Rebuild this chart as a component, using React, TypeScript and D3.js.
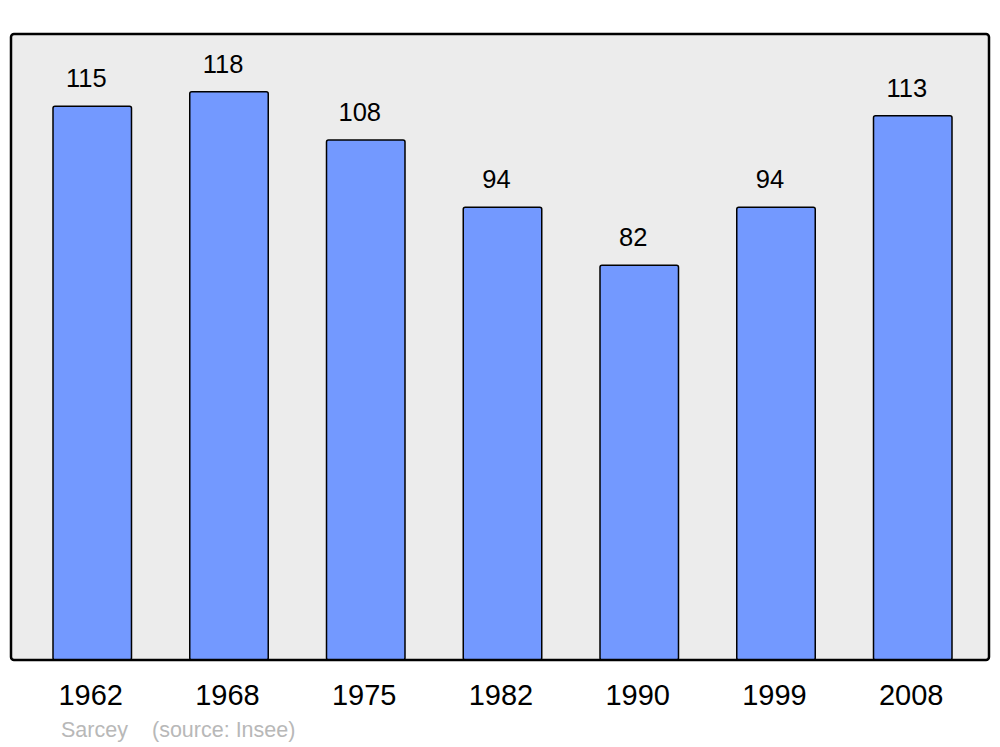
import React from "react";
import * as d3 from "d3";

const years = ["1962", "1968", "1975", "1982", "1990", "1999", "2008"];
const population = [115, 118, 108, 94, 82, 94, 113];
const yDomainMax = 130;
const footerName = "Sarcey";
const footerSource = "(source: Insee)";

const W = 1000;
const H = 747;
const FONT = "'Liberation Sans', Arial, sans-serif";

export default function App() {
  const panel = { x: 11, y: 34, w: 978, h: 626 };
  const x = d3
    .scaleBand<string>()
    .domain(years)
    .range([53, 952])
    .paddingInner(0.426)
    .paddingOuter(0);
  const y = d3.scaleLinear().domain([0, yDomainMax]).range([panel.y + panel.h, panel.y]);
  const bw = x.bandwidth();

  return (
    <div style={{ position: "absolute", left: 0, top: 0 }}>
      <svg width={W} height={H} style={{ display: "block", background: "#fff" }}>
        <rect x={panel.x} y={panel.y} width={panel.w} height={panel.h} fill="#ececec" rx={3} />
        {years.map((yr, i) => {
          const v = population[i];
          const x0 = x(yr)!;
          const top = y(v);
          return (
            <g key={yr}>
              <rect
                x={x0}
                y={top}
                width={bw}
                height={y(0) - top}
                fill="#7399ff"
                stroke="#000"
                strokeWidth={1.5}
                rx={2}
              />
              <text
                x={x0 + bw / 2 - 6}
                y={top - 19}
                textAnchor="middle"
                fontFamily={FONT}
                fontSize={25.5}
                fill="#000"
              >
                {v}
              </text>
              <text
                x={x0 + bw / 2 - 1.5}
                y={705}
                textAnchor="middle"
                fontFamily={FONT}
                fontSize={29}
                fill="#000"
              >
                {yr}
              </text>
            </g>
          );
        })}
        <rect
          x={panel.x}
          y={panel.y}
          width={panel.w}
          height={panel.h}
          fill="none"
          stroke="#000"
          strokeWidth={2.5}
          rx={3}
        />
        <text x={61} y={737} fontFamily={FONT} fontSize={21.5} fill="#b8b8b8">
          {footerName}
        </text>
        <text x={152} y={737} fontFamily={FONT} fontSize={21.5} fill="#b8b8b8">
          {footerSource}
        </text>
      </svg>
    </div>
  );
}
